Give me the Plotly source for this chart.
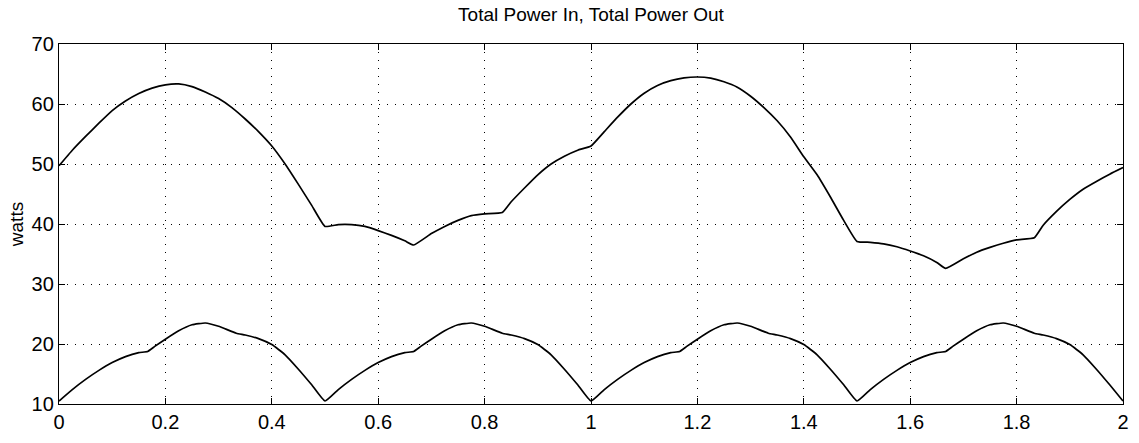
import plotly.graph_objects as go

# Time axis samples (seconds) and the two power traces (watts)
t_in = [0.0, 0.025, 0.05, 0.075, 0.1, 0.125, 0.15, 0.175, 0.2, 0.225, 0.25, 0.275, 0.3, 0.325,
        0.35, 0.375, 0.4, 0.425, 0.45, 0.475, 0.5,
        0.525, 0.55, 0.575, 0.6, 0.625, 0.65, 0.6667, 0.7, 0.725, 0.75, 0.775, 0.8, 0.8333,
        0.85, 0.875, 0.9, 0.925, 0.95, 0.975, 1.0,
        1.025, 1.05, 1.075, 1.1, 1.125, 1.15, 1.175, 1.2, 1.225, 1.25, 1.275, 1.3, 1.325,
        1.35, 1.375, 1.4, 1.425, 1.45, 1.475, 1.5,
        1.525, 1.55, 1.575, 1.6, 1.625, 1.65, 1.6667, 1.7, 1.725, 1.75, 1.775, 1.8, 1.8333,
        1.85, 1.875, 1.9, 1.925, 1.95, 1.975, 2.0]
power_in = [49.7, 52.3, 54.6, 56.8, 58.9, 60.5, 61.75, 62.65, 63.2, 63.35, 62.9, 62.0, 60.9, 59.4,
            57.5, 55.4, 53.0, 50.0, 46.6, 43.1, 39.6,
            39.9, 39.9, 39.6, 38.9, 38.1, 37.2, 36.5, 38.4, 39.6, 40.6, 41.4, 41.7, 41.9,
            43.7, 46.0, 48.2, 50.0, 51.3, 52.3, 53.0,
            55.4, 57.8, 60.0, 61.8, 63.1, 63.9, 64.35, 64.5, 64.3, 63.7, 62.8, 61.3, 59.4,
            57.2, 54.5, 51.2, 48.2, 44.5, 40.6, 37.1,
            36.95, 36.7, 36.2, 35.5, 34.7, 33.6, 32.6, 34.2, 35.3, 36.1, 36.8, 37.35, 37.7,
            39.8, 42.1, 44.1, 45.8, 47.1, 48.3, 49.4]

t_out = [0.0, 0.025, 0.05, 0.075, 0.1, 0.125, 0.15, 0.1667, 0.18, 0.2, 0.225, 0.25, 0.275, 0.3,
         0.3333, 0.35, 0.375, 0.4, 0.425, 0.45, 0.475, 0.5,
         0.525, 0.55, 0.575, 0.6, 0.625, 0.65, 0.6667, 0.68, 0.7, 0.725, 0.75, 0.775, 0.8,
         0.8333, 0.85, 0.875, 0.9, 0.925, 0.95, 0.975, 1.0,
         1.025, 1.05, 1.075, 1.1, 1.125, 1.15, 1.1667, 1.18, 1.2, 1.225, 1.25, 1.275, 1.3,
         1.3333, 1.35, 1.375, 1.4, 1.425, 1.45, 1.475, 1.5,
         1.525, 1.55, 1.575, 1.6, 1.625, 1.65, 1.6667, 1.68, 1.7, 1.725, 1.75, 1.775, 1.8,
         1.8333, 1.85, 1.875, 1.9, 1.925, 1.95, 1.975, 2.0]
power_out = [10.5, 12.4, 14.1, 15.6, 16.9, 17.9, 18.55, 18.75, 19.6, 20.8, 22.2, 23.2, 23.5, 22.95,
             21.8, 21.5, 20.9, 19.9, 18.2, 15.8, 13.2, 10.5,
             12.4, 14.1, 15.6, 16.9, 17.9, 18.55, 18.75, 19.6, 20.8, 22.2, 23.2, 23.5, 22.95,
             21.8, 21.5, 20.9, 19.9, 18.2, 15.8, 13.2, 10.5,
             12.4, 14.1, 15.6, 16.9, 17.9, 18.55, 18.75, 19.6, 20.8, 22.2, 23.2, 23.5, 22.95,
             21.8, 21.5, 20.9, 19.9, 18.2, 15.8, 13.2, 10.5,
             12.4, 14.1, 15.6, 16.9, 17.9, 18.55, 18.75, 19.6, 20.8, 22.2, 23.2, 23.5, 22.95,
             21.8, 21.5, 20.9, 19.9, 18.2, 15.8, 13.2, 10.5]

x_ticks = [0, 0.2, 0.4, 0.6, 0.8, 1, 1.2, 1.4, 1.6, 1.8, 2]
x_tick_labels = ["0", "0.2", "0.4", "0.6", "0.8", "1", "1.2", "1.4", "1.6", "1.8", "2"]
y_ticks = [10, 20, 30, 40, 50, 60, 70]

FONT = "Liberation Sans, Arial, Helvetica, sans-serif"

fig = go.Figure()
fig.add_trace(go.Scatter(x=t_in, y=power_in, mode="lines", name="Total Power In",
                         line=dict(color="black", width=1.7, shape="spline", smoothing=0.4)))
fig.add_trace(go.Scatter(x=t_out, y=power_out, mode="lines", name="Total Power Out",
                         line=dict(color="black", width=1.7, shape="spline", smoothing=0.4)))

axis_common = dict(
    showline=True, linecolor="black", linewidth=1.4, mirror="ticks",
    ticks="inside", ticklen=6, tickwidth=1.4, tickcolor="black",
    showgrid=True, gridcolor="black", gridwidth=1, griddash="1px,7px",
    zeroline=False,
    tickfont=dict(family=FONT, size=20, color="black"),
)

fig.update_layout(
    width=1139, height=443,
    margin=dict(l=59, r=10, t=44, b=34),
    paper_bgcolor="white", plot_bgcolor="white",
    showlegend=False,
    title=dict(text="Total Power In, Total Power Out", x=0.5, xref="paper",
               y=0.982, yanchor="top",
               font=dict(family=FONT, size=19, color="black")),
    xaxis=dict(range=[0, 2], tickvals=x_ticks, ticktext=x_tick_labels, **axis_common),
    yaxis=dict(range=[10, 70], tickvals=y_ticks,
               title=dict(text="watts", font=dict(family=FONT, size=19, color="black"),
                          standoff=2),
               **axis_common),
)

fig.write_html("out.html")
